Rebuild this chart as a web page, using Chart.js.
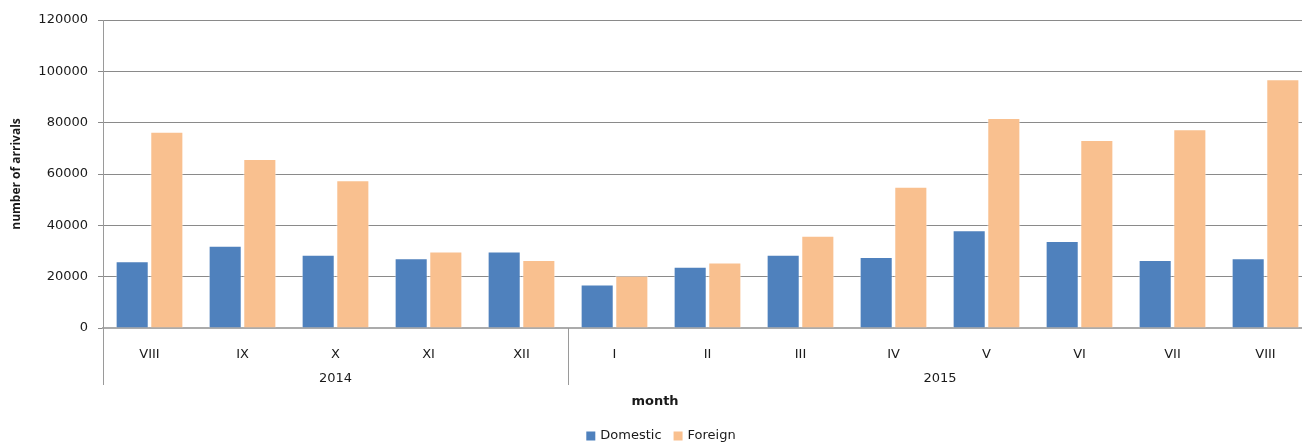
<!DOCTYPE html>
<html><head><meta charset="utf-8">
<script src="https://cdn.jsdelivr.net/npm/chart.js@4.4.1/dist/chart.umd.min.js"></script>
<style>
html,body{margin:0;padding:0;overflow:hidden;background:#fff;width:1302px;height:443px}
#wrap{position:relative;width:1318px;height:443px}
canvas{display:block}
</style></head>
<body><div id="wrap"><canvas id="c" width="1318" height="443"></canvas></div>
<script>
const months = ['VIII','IX','X','XI','XII','I','II','III','IV','V','VI','VII','VIII'];
const years = ['2014','2015'];
const yearSpans = [5, 8];
const domestic = [26000,32000,28500,27200,29800,16900,23900,28500,27700,38100,33900,26500,27200];
const foreign  = [76500,65800,57600,29800,26500,20400,25500,35900,55000,81800,73200,77400,96900];
const seriesNames = ['Domestic','Foreign'];
const yMin = 0, yMax = 120000, yStep = 20000;
const xTitle = 'month';
const yTitle = 'number of arrivals';

const FONT = "'DejaVu Sans', sans-serif";
const colD = '#4F81BD', colF = '#F9C08F';
const txt = '#1a1a1a';

const extras = {
  id: 'extras',
  afterDraw(chart) {
    const ctx = chart.ctx, x = chart.scales.x, ca = chart.chartArea;
    ctx.save();
    ctx.strokeStyle = '#9a9a9a'; ctx.lineWidth = 1;
    let idx = 0;
    const bounds = [ca.left];
    yearSpans.forEach(n => {
      idx += n;
      const last = x.getPixelForValue(idx - 1);
      const next = idx < months.length ? x.getPixelForValue(idx) : last + (last - x.getPixelForValue(idx - 2));
      bounds.push((last + next) / 2);
    });
    bounds.forEach(b => {
      const px = Math.round(b) + 0.5;
      ctx.beginPath(); ctx.moveTo(px, ca.bottom); ctx.lineTo(px, 385); ctx.stroke();
    });
    ctx.fillStyle = txt; ctx.font = "13px " + FONT;
    ctx.textAlign = 'center'; ctx.textBaseline = 'middle';
    years.forEach((y, i) => ctx.fillText(y, (bounds[i] + bounds[i + 1]) / 2, 379));
    ctx.font = "bold 13px " + FONT;
    ctx.fillText(xTitle, 655, 402);
    ctx.font = "13px " + FONT;
    ctx.textAlign = 'left';
    const box = 9, gapBox = 5, gapItem = 12;
    const w0 = ctx.measureText(seriesNames[0]).width, w1 = ctx.measureText(seriesNames[1]).width;
    const total = box + gapBox + w0 + gapItem + box + gapBox + w1;
    let lx = 661 - total / 2;
    const ly = 436;
    [[colD, seriesNames[0], w0], [colF, seriesNames[1], w1]].forEach(([c, n, w]) => {
      ctx.fillStyle = c; ctx.fillRect(lx, ly - 4.5, box, box);
      lx += box + gapBox;
      ctx.fillStyle = txt; ctx.fillText(n, lx, ly);
      lx += w + gapItem;
    });
    ctx.restore();
  }
};

new Chart(document.getElementById('c'), {
  type: 'bar',
  data: {
    labels: months,
    datasets: [
      { label: seriesNames[0], data: domestic, backgroundColor: colD, borderColor: 'rgba(255,255,255,0.5)', borderWidth: 1 },
      { label: seriesNames[1], data: foreign, backgroundColor: colF, borderColor: 'rgba(255,255,255,0.5)', borderWidth: 1 }
    ]
  },
  options: {
    responsive: false,
    animation: false,
    devicePixelRatio: 1,
    layout: { padding: { left: 0, right: 6, top: 20, bottom: 0 } },
    plugins: { legend: { display: false }, tooltip: { enabled: false } },
    datasets: { bar: { categoryPercentage: 0.745, barPercentage: 0.955 } },
    scales: {
      x: {
        grid: { display: false, drawTicks: false },
        border: { display: true, color: '#ababab', width: 2 },
        ticks: { color: txt, font: { family: FONT, size: 13 }, padding: 19, maxRotation: 0, autoSkip: false },
        afterFit(s) { s.height = 115; }
      },
      y: {
        min: yMin, max: yMax,
        ticks: { stepSize: yStep, color: txt, font: { family: FONT, size: 13 }, padding: 10,
                 callback: v => String(v) },
        grid: { color: '#8a8a8a', lineWidth: 1, tickLength: 5, drawTicks: true },
        border: { display: true, color: '#9a9a9a', width: 1 },
        title: { display: true, text: yTitle, color: txt, font: { family: "'Open Sans', sans-serif", size: 12, weight: 'bold' }, padding: { top: 9, bottom: 0 } },
        afterFit(s) { s.width = 103; }
      }
    }
  },
  plugins: [extras]
});
</script>
</body></html>
